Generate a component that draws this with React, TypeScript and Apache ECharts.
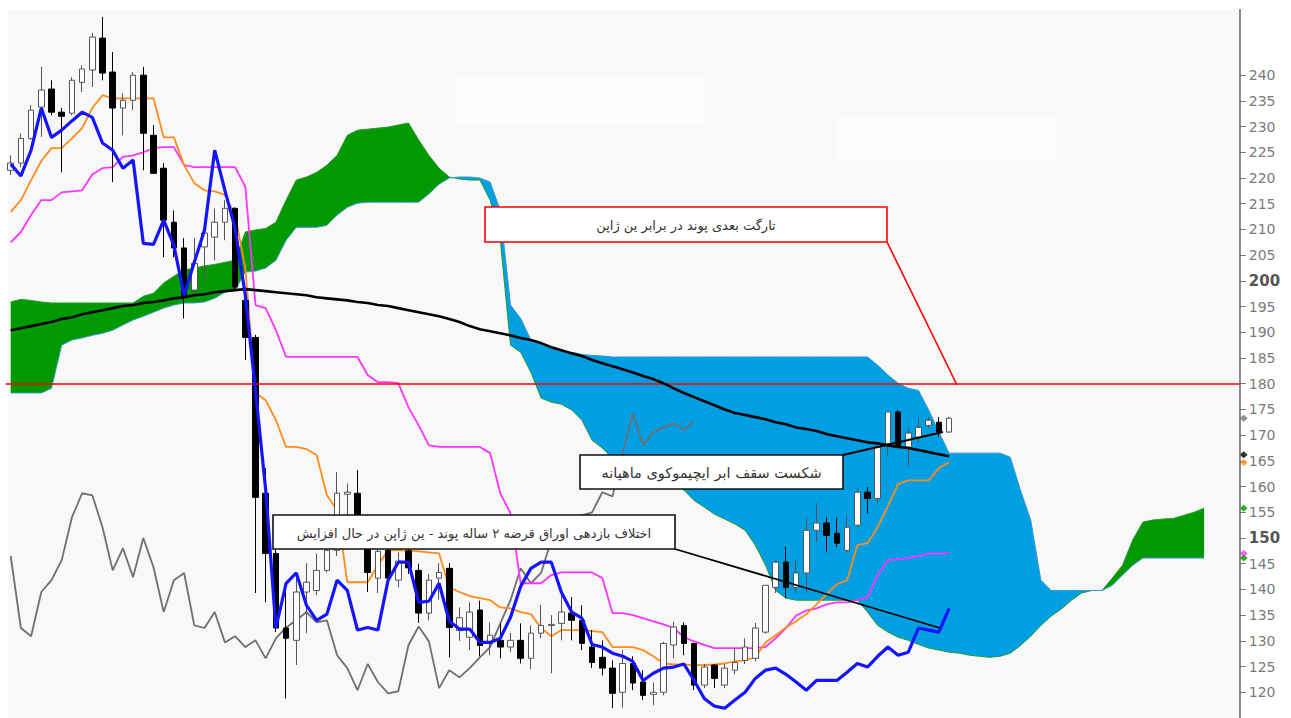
import React, { useEffect, useRef } from "react";
import * as echarts from "echarts";

// ---------- data ----------
// candles: [open, close, low, high]
const candles: number[][] = [
  [221.5, 222.9, 220.6, 224.4], [222.9, 227.7, 222.1, 228.7], [227.7, 233.2, 227.4, 234.2], [233.8, 237.1, 228.0, 241.6],
  [237.3, 232.8, 232.2, 239.0], [232.8, 232.0, 221.1, 233.6], [232.6, 239.0, 232.2, 239.6], [238.6, 241.2, 236.7, 241.9],
  [241.0, 247.4, 237.7, 248.2], [247.2, 240.4, 239.0, 251.3], [240.6, 233.6, 219.2, 244.5], [233.6, 235.1, 228.3, 236.5],
  [235.1, 240.0, 233.2, 240.6], [240.0, 228.7, 221.5, 241.6], [228.3, 220.9, 220.9, 230.3], [221.9, 211.8, 204.6, 222.9],
  [211.4, 206.4, 204.6, 213.7], [206.4, 196.8, 192.7, 208.3], [198.2, 203.4, 197.2, 208.3], [206.6, 209.3, 200.1, 210.4],
  [208.5, 211.4, 204.0, 214.1], [211.4, 214.1, 207.9, 215.7], [214.1, 198.8, 198.2, 214.3], [196.2, 189.0, 184.6, 197.0],
  [189.0, 157.9, 139.3, 189.5], [158.7, 147.0, 137.5, 163.6], [147.0, 132.5, 131.7, 148.0], [132.5, 130.5, 118.8, 139.8],
  [130.1, 139.5, 125.3, 143.2], [139.5, 141.4, 131.5, 145.1], [139.8, 143.7, 138.9, 147.0], [143.7, 147.6, 143.3, 150.2],
  [147.6, 158.7, 146.5, 162.8], [158.5, 158.9, 153.0, 160.6], [158.7, 151.0, 149.0, 163.2], [150.5, 143.3, 139.5, 152.0],
  [142.2, 147.4, 139.3, 148.5], [147.6, 142.2, 141.0, 149.0], [141.8, 145.5, 140.4, 147.2], [147.5, 144.2, 143.0, 148.5],
  [143.7, 135.4, 133.5, 145.0], [135.4, 141.8, 134.0, 143.0], [142.2, 143.3, 138.0, 145.1], [144.1, 132.6, 126.8, 145.1],
  [132.0, 134.5, 130.0, 136.5], [130.7, 135.6, 128.2, 137.5], [136.0, 129.1, 127.0, 137.8], [129.5, 131.1, 127.2, 133.6],
  [130.1, 128.8, 126.6, 133.4], [128.8, 130.1, 127.8, 131.5], [130.1, 126.6, 125.6, 133.4], [126.6, 131.5, 124.5, 133.0],
  [131.5, 133.0, 130.5, 137.0], [133.0, 133.2, 123.7, 135.0], [133.4, 135.6, 130.1, 138.9], [135.4, 134.0, 130.1, 138.5],
  [134.0, 129.5, 128.2, 136.9], [128.8, 125.8, 124.7, 132.1], [126.8, 124.7, 123.3, 130.1], [124.7, 119.8, 116.9, 126.2],
  [120.0, 125.6, 117.0, 128.2], [125.6, 121.8, 120.4, 127.0], [122.0, 119.4, 118.5, 124.3], [119.6, 120.0, 117.5, 121.9],
  [120.0, 129.5, 119.4, 129.8], [129.2, 132.7, 126.6, 133.7], [133.0, 129.5, 127.2, 133.6], [129.5, 121.4, 120.4, 129.6],
  [121.4, 124.9, 120.8, 125.5], [125.3, 122.7, 120.8, 125.5], [121.4, 124.7, 120.8, 125.5], [124.3, 125.8, 123.5, 128.5],
  [126.2, 128.8, 125.5, 130.5], [126.6, 132.5, 126.0, 133.5], [131.7, 140.8, 131.4, 140.8], [140.4, 145.3, 139.3, 145.7],
  [145.3, 140.4, 138.3, 148.3], [140.4, 143.2, 139.3, 145.7], [143.2, 151.5, 139.3, 154.0], [151.5, 152.9, 149.2, 156.8],
  [152.9, 150.5, 147.2, 154.0], [150.9, 149.0, 148.2, 154.0], [147.6, 152.1, 147.2, 154.4], [152.5, 158.9, 152.1, 159.9],
  [158.9, 157.7, 154.8, 159.9], [157.7, 167.7, 156.8, 168.4], [168.4, 174.5, 166.1, 174.5], [174.5, 168.0, 167.5, 174.9],
  [167.7, 170.4, 163.8, 171.4], [169.6, 171.5, 168.4, 173.5], [171.9, 172.9, 171.4, 173.5], [172.5, 170.6, 169.6, 173.5],
  [170.6, 173.3, 170.5, 173.5],
];

const tenkan: number[] = [
  213.4, 215.7, 219.6, 223.3, 225.8, 225.8, 227.7, 229.7, 233.6, 236.1,
  235.5, 235.5, 235.5, 235.5, 235.5, 227.9, 227.9, 222.5, 219.0, 217.6,
  217.4, 216.7, 212.8, 202.5, 178.2, 176.8, 172.9, 167.7, 167.7, 167.3,
  166.1, 158.3, 155.4, 141.4, 141.4, 141.4, 144.7, 147.6, 147.6, 147.6,
  147.4, 147.2, 147.0, 140.4, 139.5, 138.7, 138.3, 137.9, 136.5, 136.3,
  135.6, 135.2, 132.5, 130.9, 132.1, 132.1, 132.1, 131.9, 131.7, 128.8,
  128.8, 128.8, 128.2, 127.0, 125.6, 125.4, 125.4, 125.3, 125.3, 125.4,
  125.6, 126.0, 126.2, 126.8, 129.7, 131.1, 132.6, 133.8, 135.2, 137.1,
  139.1, 141.0, 141.8, 148.6, 149.0, 152.1, 156.2, 160.5, 161.2, 161.2,
  161.2, 163.6, 164.7,
];

const kijun: number[] = [
  207.5, 209.5, 212.8, 215.7, 215.7, 217.2, 217.4, 217.6, 220.7, 221.9,
  222.1, 224.1, 224.4, 225.0, 225.8, 226.0, 226.0, 222.5, 222.1, 222.1,
  222.1, 222.1, 222.1, 218.3, 195.3, 194.7, 190.4, 185.2, 185.2, 185.2,
  185.2, 185.2, 185.2, 185.2, 185.2, 181.7, 180.3, 180.3, 180.1, 175.4,
  171.9, 168.0, 167.7, 167.7, 167.7, 167.7, 167.7, 166.5, 158.7, 154.8,
  141.2, 141.2, 141.2, 142.8, 143.3, 143.3, 143.3, 143.3, 142.2, 135.4,
  135.4, 135.0, 134.4, 133.8, 133.2, 132.5, 130.7, 129.9, 129.2, 128.6,
  128.6, 128.6, 128.6, 128.6, 128.8, 130.5, 132.5, 134.9, 135.9, 136.3,
  137.1, 137.5, 137.5, 137.9, 138.5, 142.8, 145.7, 145.9, 146.1, 146.5,
  147.0, 147.0, 147.0,
];

const chikou: number[] = [
  222.7, 220.4, 225.4, 233.6, 227.9, 229.3, 231.1, 232.8, 231.8, 226.8,
  225.4, 221.9, 223.5, 207.3, 207.1, 211.8, 206.9, 197.2, 203.6, 209.9,
  225.4, 217.6, 210.2, 197.2, 178.7, 159.3, 132.5, 141.2, 143.2, 136.9,
  134.0, 135.2, 141.8, 139.8, 132.1, 132.6, 132.1, 141.8, 145.3, 145.3,
  137.5, 137.7, 141.2, 133.8, 132.3, 132.3, 129.7, 129.7, 130.5, 134.6,
  140.6, 144.1, 145.3, 145.3, 139.4, 135.6, 134.4, 129.3, 128.8, 127.6,
  127.0, 126.0, 122.3, 123.7, 124.7, 124.9, 125.5, 122.3, 118.8, 117.3,
  116.9, 118.5, 120.0, 122.7, 124.3, 124.7, 123.5, 122.0, 120.4, 122.3,
  122.3, 122.3, 123.9, 125.6, 124.9, 127.0, 128.8, 127.2, 127.8, 132.5,
  132.1, 131.7, 136.3,
];

const movingAvg: number[] = [
  190.4, 190.8, 191.2, 191.6, 192.0, 192.6, 192.9, 193.5, 193.9, 194.3,
  194.7, 195.1, 195.3, 195.7, 195.9, 196.2, 196.6, 196.8, 197.2, 197.4,
  197.8, 198.0, 198.2, 198.4, 198.2, 198.0, 197.8, 197.6, 197.4, 197.2,
  196.8, 196.6, 196.4, 196.2, 195.9, 195.7, 195.3, 195.1, 194.7, 194.3,
  193.9, 193.5, 193.1, 192.6, 192.0, 191.2, 190.6, 190.2, 189.8, 189.4,
  188.9, 188.5, 187.9, 187.1, 186.5, 185.9, 185.4, 184.6, 184.0, 183.4,
  182.8, 182.2, 181.5, 180.9, 180.1, 179.1, 178.2, 177.4, 176.6, 175.8,
  175.0, 174.3, 173.9, 173.5, 173.1, 172.5, 172.1, 171.5, 171.2, 170.8,
  170.2, 169.8, 169.4, 169.0, 168.6, 168.4, 168.0, 167.7, 167.5, 167.1,
  166.7, 166.3, 165.9,
];

// 2-year bond yield spread, drawn in price units as in the picture
const yieldSpread: number[] = [
  146.5, 132.5, 130.9, 139.5, 141.8, 145.7, 154.0, 158.7, 158.3, 152.1,
  143.7, 148.0, 142.4, 150.0, 144.3, 135.6, 141.8, 143.2, 133.0, 132.5,
  135.6, 129.7, 130.9, 128.8, 130.1, 126.6, 130.5, 132.6, 134.0, 135.6,
  133.6, 134.0, 127.2, 124.7, 120.4, 125.5, 122.0, 119.8, 120.2, 129.2,
  132.8, 129.9, 120.8, 124.3, 122.9, 124.7, 126.8, 128.8, 133.4, 137.9,
  144.1, 141.2, 143.2, 149.6, 154.4, 153.5, 154.4, 155.0, 158.9, 158.1,
  166.5, 174.3, 168.0, 170.6, 171.5, 172.3, 171.0, 172.7,
];

const senkouA: number[] = [
  195.9, 196.4, 196.2, 195.9, 195.7, 195.7, 195.7, 195.7, 195.7, 195.7,
  195.7, 195.7, 195.7, 197.0, 197.6, 199.6, 200.9, 202.1, 202.5, 202.9,
  203.2, 203.6, 204.0, 209.5, 209.9, 210.2, 211.4, 215.7, 219.6, 220.2,
  221.1, 222.5, 224.4, 228.3, 229.3, 229.5, 229.7, 229.9, 230.3, 230.7,
  227.4, 224.4, 221.9, 220.2, 219.8, 219.6, 219.6, 215.7, 207.9, 187.5,
  186.1, 182.2, 177.2, 176.4, 176.0, 174.9, 172.9, 169.0, 167.5, 165.5,
  164.5, 163.6, 163.0, 162.2, 161.2, 160.5, 159.3, 157.3, 156.0, 154.6,
  153.7, 152.7, 151.5, 148.6, 144.7, 139.8, 138.3, 137.9, 137.9, 137.9,
  137.9, 137.9, 137.9, 137.9, 135.6, 133.0, 131.7, 130.7, 130.1, 129.3,
  128.6, 128.2, 127.8, 127.6, 127.2, 127.0, 126.8, 127.0, 127.6, 129.1,
  130.9, 133.0, 134.8, 136.2, 137.9, 139.3, 139.8, 139.8, 142.2, 144.7,
  149.6, 153.1, 153.5, 153.7, 153.8, 154.4, 155.0, 155.8,
];

const senkouB: number[] = [
  178.2, 178.2, 178.2, 178.2, 179.1, 187.5, 188.5, 188.9, 189.4, 189.8,
  190.4, 191.4, 192.4, 193.1, 193.9, 194.7, 195.3, 195.7, 195.7, 195.9,
  196.6, 197.8, 198.2, 201.7, 201.9, 202.5, 204.0, 207.9, 210.4, 210.4,
  210.4, 210.8, 212.8, 214.3, 215.1, 215.3, 215.3, 215.3, 215.3, 215.3,
  215.3, 216.9, 218.8, 220.0, 220.2, 220.2, 220.0, 219.2, 213.7, 195.3,
  192.7, 188.5, 187.9, 187.1, 186.5, 186.1, 185.7, 185.5, 185.4, 185.2,
  185.2, 185.2, 185.2, 185.2, 185.2, 185.2, 185.2, 185.2, 185.2, 185.2,
  185.2, 185.2, 185.2, 185.2, 185.2, 185.2, 185.2, 185.2, 185.2, 185.2,
  185.2, 185.2, 185.2, 185.2, 185.2, 183.6, 181.7, 180.1, 179.1, 178.7,
  174.9, 170.6, 166.5, 166.5, 166.5, 166.5, 166.5, 166.5, 165.7, 159.3,
  153.5, 141.8, 139.8, 139.8, 139.8, 139.8, 139.8, 139.8, 140.8, 142.8,
  144.7, 146.1, 146.1, 146.1, 146.1, 146.1, 146.1, 146.1,
];

// last-value markers on the price axis
const lastValues = [
  { name: "close", value: 173.3, color: "#777777" },
  { name: "ma", value: 166.2, color: "#000000" },
  { name: "tenkan", value: 164.7, color: "#ff8c1a" },
  { name: "spanA", value: 155.8, color: "#009a00" },
  { name: "kijun", value: 147.0, color: "#ff33ff" },
  { name: "spanB", value: 146.1, color: "#009a00" },
];

const priceTicks: number[] = [
  120, 125, 130, 135, 140, 145, 150, 155, 160, 165, 170, 175, 180, 185, 190,
  195, 200, 205, 210, 215, 220, 225, 230, 235, 240,
];
const boldTicks: number[] = [150, 200];
const targetLevel = 180;

const labelTarget = "تارگت بعدی پوند در برابر ین ژاپن";
const labelBreak = "شکست سقف ابر ایچیموکوی ماهیانه";
const labelSpread = "اختلاف بازدهی اوراق قرضه ۲ ساله پوند - ین ژاپن در حال افزایش";

const categoryCount = 121;
const categories: string[] = Array.from({ length: categoryCount }, (_, i) => `M${i + 1}`);

export default function App() {
  const ref = useRef<HTMLDivElement>(null);

  useEffect(() => {
    if (!ref.current) return;
    const chart = echarts.init(ref.current, null, { renderer: "svg" });

    const n = senkouA.length;
    const isG = (i: number) => i >= 0 && i < n && senkouA[i] >= senkouB[i];
    const isBl = (i: number) => i >= 0 && i < n && senkouB[i] >= senkouA[i];
    const inG = (i: number) => isG(i) || isG(i - 1) || isG(i + 1);
    const inBl = (i: number) => isBl(i) || isBl(i - 1) || isBl(i + 1);
    const greenBase = senkouA.map((a, i) => (inG(i) ? senkouB[i] : "-"));
    const greenFill = senkouA.map((a, i) => (inG(i) ? Math.max(0, a - senkouB[i]) : "-"));
    const blueBase = senkouA.map((a, i) => (inBl(i) ? a : "-"));
    const blueFill = senkouA.map((a, i) => (inBl(i) ? Math.max(0, senkouB[i] - a) : "-"));

    const hidden = { width: 0, opacity: 0 };
    const font = '"DejaVu Sans", sans-serif';

    const box = (x: number, y: number, w: number, h: number, stroke: string, text: string, size: number) => [
      {
        type: "rect",
        z: 100,
        shape: { x, y, width: w, height: h },
        style: { fill: "#ffffff", stroke, lineWidth: 1.6 },
      },
      {
        type: "text",
        z: 101,
        x: x + w / 2,
        y: y + h / 2 + 1,
        style: {
          text,
          fill: "#333333",
          font: `${size}px ${font}`,
          align: "center",
          verticalAlign: "middle",
          textAlign: "center",
          textVerticalAlign: "middle",
        },
      },
    ];

    const option: any = {
      animation: false,
      backgroundColor: "#ffffff",
      grid: {
        left: 5.6,
        right: 51.2,
        top: -2,
        bottom: 0,
        containLabel: false,
        outerBoundsMode: "none",
      },
      xAxis: {
        type: "category",
        data: categories,
        boundaryGap: true,
        show: false,
      },
      yAxis: {
        type: "value",
        position: "right",
        min: 115,
        max: 255,
        interval: 5,
        splitLine: { show: false },
        axisLine: { show: false },
        axisTick: {
          show: true,
          length: 6,
          inside: false,
          customValues: priceTicks,
          lineStyle: { color: "#777777", width: 1 },
        },
        axisLabel: {
          customValues: priceTicks,
          margin: 9,
          color: "#7a7a7a",
          fontFamily: font,
          fontSize: 14,
          formatter: (v: number) => {
            if (v < 120 || v > 240) return "";
            return boldTicks.indexOf(v) >= 0 ? `{b|${v}}` : `${v}`;
          },
          rich: {
            b: { fontWeight: "bold", fontSize: 15, color: "#555555", fontFamily: font },
          },
        },
      },
      graphic: [
        {
          type: "rect",
          z: -10,
          silent: true,
          shape: { x: 8, y: 10, width: 1232, height: 708 },
          style: { fill: "#f8f8f8" },
        },
        {
          type: "rect",
          z: -9,
          silent: true,
          shape: { x: 455, y: 76, width: 250, height: 50 },
          style: { fill: "#fbfbfb" },
        },
        {
          type: "rect",
          z: -9,
          silent: true,
          shape: { x: 838, y: 118, width: 218, height: 42 },
          style: { fill: "#fbfbfb" },
        },
        {
          type: "line",
          z: 50,
          silent: true,
          shape: { x1: 1240, y1: 9, x2: 1240, y2: 718 },
          style: { stroke: "#666666", lineWidth: 1.5 },
        },
        {
          type: "line",
          z: 99,
          shape: { x1: 887, y1: 242, x2: 957, y2: 385 },
          style: { stroke: "#ff0000", lineWidth: 1.6 },
        },
        {
          type: "line",
          z: 99,
          shape: { x1: 843, y1: 455, x2: 943, y2: 432 },
          style: { stroke: "#000000", lineWidth: 1.8 },
        },
        {
          type: "line",
          z: 99,
          shape: { x1: 675, y1: 549, x2: 940, y2: 628 },
          style: { stroke: "#000000", lineWidth: 1.8 },
        },
        ...box(485, 207, 402, 35, "#ff0000", labelTarget, 13),
        ...box(580, 455, 263, 34, "#111111", labelBreak, 14.5),
        ...box(273, 515, 402, 34, "#111111", labelSpread, 13),
      ],
      series: [
        {
          name: "greenBase",
          type: "line",
          stack: "g",
          data: greenBase,
          symbol: "none",
          silent: true,
          lineStyle: hidden,
          z: 1,
        },
        {
          name: "greenCloud",
          type: "line",
          stack: "g",
          data: greenFill,
          symbol: "none",
          silent: true,
          lineStyle: hidden,
          areaStyle: { color: "#009a00", opacity: 1 },
          z: 1,
        },
        {
          name: "blueBase",
          type: "line",
          stack: "b",
          data: blueBase,
          symbol: "none",
          silent: true,
          lineStyle: hidden,
          z: 1,
        },
        {
          name: "blueCloud",
          type: "line",
          stack: "b",
          data: blueFill,
          symbol: "none",
          silent: true,
          lineStyle: hidden,
          areaStyle: { color: "#009fe3", opacity: 1 },
          z: 1,
        },
        {
          name: "spanA",
          type: "line",
          data: senkouA,
          symbol: "none",
          silent: true,
          lineStyle: { color: "#2a9a2a", width: 1 },
          z: 1,
        },
        {
          name: "spanB",
          type: "line",
          data: senkouB,
          symbol: "none",
          silent: true,
          lineStyle: { color: "#3a98d0", width: 1 },
          z: 1,
        },
        {
          name: "yieldSpread",
          type: "line",
          data: yieldSpread,
          symbol: "none",
          lineStyle: { color: "#6f6f6f", width: 1.8 },
          z: 2,
          markLine: {
            silent: true,
            symbol: "none",
            label: { show: false },
            lineStyle: { color: "#ff0000", width: 1.6, type: "solid" },
            data: [{ yAxis: targetLevel }],
          },
        },
        {
          name: "kijun",
          type: "line",
          data: kijun,
          symbol: "none",
          lineStyle: { color: "#ff33ff", width: 1.8 },
          z: 3,
        },
        {
          name: "tenkan",
          type: "line",
          data: tenkan,
          symbol: "none",
          lineStyle: { color: "#ff8c1a", width: 1.8 },
          z: 3,
        },
        {
          name: "price",
          type: "candlestick",
          data: candles.map((c) => [c[0], c[1], c[2], c[3]]),
          barWidth: 6,
          clip: false,
          itemStyle: {
            color: "#ffffff",
            color0: "#000000",
            borderColor: "#555555",
            borderColor0: "#000000",
            borderWidth: 1,
          },
          z: 4,
        },
        {
          name: "ma",
          type: "line",
          data: movingAvg,
          symbol: "none",
          lineStyle: { color: "#000000", width: 2.6 },
          z: 5,
        },
        {
          name: "chikou",
          type: "line",
          data: chikou,
          symbol: "none",
          lineStyle: { color: "#1414ff", width: 3.2 },
          z: 6,
        },
        {
          name: "last",
          type: "scatter",
          clip: false,
          symbol: "diamond",
          symbolSize: [8, 7],
          symbolOffset: [9, 0],
          data: lastValues.map((d) => ({
            value: [categoryCount - 1, d.value],
            itemStyle: { color: d.color },
          })),
          z: 7,
        },
      ],
    };

    chart.setOption(option);
    return () => chart.dispose();
  }, []);

  return (
    <div
      ref={ref}
      style={{ position: "fixed", left: 0, top: 0, width: 1291, height: 718 }}
    />
  );
}
